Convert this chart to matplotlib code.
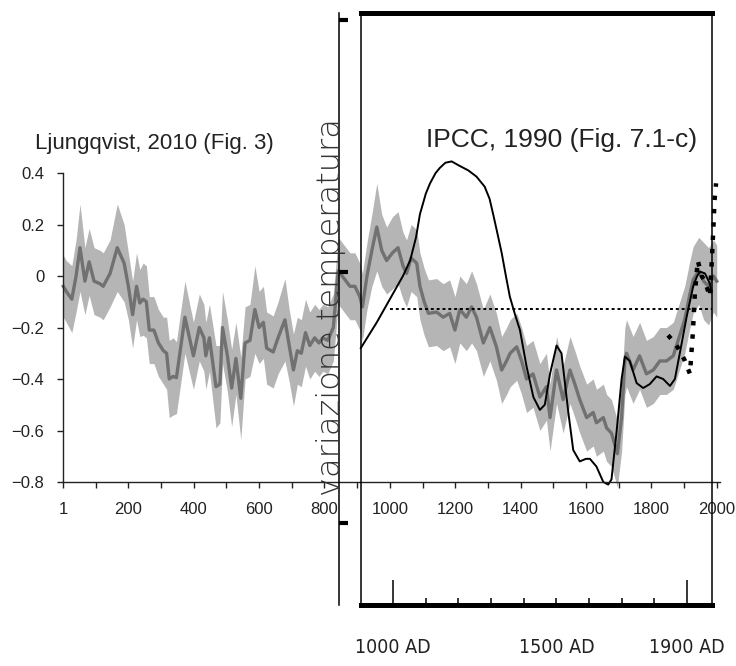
import matplotlib
matplotlib.use("Agg")
import matplotlib.pyplot as plt
import numpy as np

plt.rcParams['font.family'] = ['Liberation Sans', 'DejaVu Sans']

# Ljungqvist 2010 reconstruction
lj_years = [1, 10, 27, 40, 52, 67, 80, 95, 113, 123, 144, 166, 187, 200, 213, 225, 235, 245, 255,
            264, 278, 292, 307, 317, 325, 337, 347, 373, 399, 417, 431, 437, 448, 468, 480, 488,
            503, 516, 529, 544, 557, 572, 587, 600, 613, 623, 643, 658, 679, 692, 705, 717, 729,
            742, 755, 770, 783, 795, 810, 827, 842, 863, 878, 893, 908, 916, 930, 945, 960, 975,
            990, 1008, 1025, 1040, 1051, 1065, 1082, 1092, 1105, 1118, 1143, 1163, 1183, 1199,
            1214, 1234, 1250, 1265, 1286, 1306, 1326, 1342, 1357, 1368, 1388, 1403, 1418, 1438,
            1459, 1479, 1490, 1510, 1530, 1551, 1566, 1581, 1602, 1622, 1632, 1653, 1663, 1678,
            1696, 1709, 1719, 1724, 1744, 1764, 1785, 1806, 1826, 1846, 1867, 1882, 1902, 1918,
            1928, 1945, 1960, 1975, 1990, 2000]
lj_temp = [-0.04, -0.06, -0.09, 0.00, 0.11, -0.02, 0.055, -0.02, -0.03, -0.04, 0.01, 0.11, 0.05,
           -0.04, -0.15, -0.04, -0.105, -0.09, -0.10, -0.21, -0.21, -0.26, -0.29, -0.30, -0.40,
           -0.39, -0.395, -0.16, -0.31, -0.20, -0.24, -0.31, -0.24, -0.43, -0.42, -0.20, -0.31,
           -0.435, -0.32, -0.475, -0.26, -0.25, -0.13, -0.20, -0.18, -0.28, -0.295, -0.24, -0.17,
           -0.27, -0.365, -0.29, -0.30, -0.22, -0.27, -0.24, -0.26, -0.24, -0.25, -0.20, 0.02,
           -0.015, -0.04, -0.04, -0.08, -0.12, 0.00, 0.10, 0.19, 0.10, 0.06, 0.09, 0.11, 0.04,
           0.01, 0.07, 0.05, -0.04, -0.10, -0.145, -0.14, -0.16, -0.145, -0.21, -0.13, -0.16,
           -0.12, -0.16, -0.26, -0.20, -0.275, -0.365, -0.33, -0.30, -0.275, -0.33, -0.40, -0.38,
           -0.47, -0.43, -0.55, -0.365, -0.48, -0.365, -0.42, -0.48, -0.55, -0.53, -0.57, -0.55,
           -0.59, -0.61, -0.69, -0.55, -0.33, -0.30, -0.365, -0.31, -0.38, -0.365, -0.33, -0.33,
           -0.31, -0.25, -0.17, -0.07, -0.015, 0.02, -0.02, -0.04, 0.00, -0.02]
lj_halfwidth = [0.12, 0.12, 0.13, 0.14, 0.17, 0.13, 0.13, 0.13, 0.13, 0.13, 0.13, 0.17, 0.15,
                0.13, 0.13, 0.13, 0.13, 0.14, 0.14, 0.13, 0.13, 0.13, 0.13, 0.14, 0.15, 0.15,
                0.14, 0.14, 0.13, 0.13, 0.13, 0.13, 0.13, 0.16, 0.15, 0.14, 0.14, 0.15, 0.14,
                0.16, 0.14, 0.14, 0.17, 0.14, 0.14, 0.14, 0.14, 0.14, 0.16, 0.14, 0.14, 0.13,
                0.13, 0.13, 0.13, 0.13, 0.13, 0.13, 0.13, 0.13, 0.13, 0.13, 0.13, 0.13, 0.13,
                0.13, 0.13, 0.14, 0.17, 0.14, 0.13, 0.14, 0.14, 0.13, 0.13, 0.13, 0.13, 0.13,
                0.13, 0.13, 0.13, 0.13, 0.13, 0.13, 0.13, 0.13, 0.14, 0.13, 0.13, 0.13, 0.13,
                0.13, 0.13, 0.13, 0.13, 0.13, 0.13, 0.13, 0.13, 0.13, 0.13, 0.13, 0.13, 0.13,
                0.13, 0.13, 0.13, 0.13, 0.13, 0.13, 0.13, 0.13, 0.13, 0.13, 0.13, 0.13, 0.13,
                0.13, 0.13, 0.13, 0.13, 0.13, 0.13, 0.13, 0.13, 0.13, 0.13, 0.13, 0.15, 0.15,
                0.14, 0.14]

# IPCC 1990 fig 7.1-c curve, same scale
ipcc_years = [911, 960, 1000, 1040, 1062, 1080, 1092, 1110, 1123, 1140, 1153, 1170, 1189, 1210,
              1240, 1265, 1290, 1305, 1316, 1330, 1342, 1355, 1367, 1383, 1398, 1418, 1439, 1459,
              1474, 1490, 1510, 1525, 1546, 1561, 1581, 1600, 1612, 1632, 1653, 1668, 1678, 1694,
              1709, 1719, 1734, 1755, 1775, 1795, 1816, 1836, 1857, 1872, 1887, 1908, 1928, 1940,
              1949, 1964, 1979, 1984]
ipcc_temp = [-0.28, -0.18, -0.09, 0.00, 0.06, 0.15, 0.24, 0.32, 0.36, 0.40, 0.42, 0.44, 0.445,
             0.43, 0.41, 0.386, 0.347, 0.30, 0.24, 0.16, 0.09, 0.00, -0.08, -0.15, -0.21, -0.35,
             -0.47, -0.52, -0.50, -0.38, -0.27, -0.30, -0.53, -0.676, -0.72, -0.71, -0.71, -0.74,
             -0.80, -0.81, -0.79, -0.60, -0.40, -0.313, -0.33, -0.416, -0.435, -0.42, -0.39,
             -0.40, -0.427, -0.40, -0.30, -0.158, -0.04, 0.00, 0.017, 0.01, -0.03, -0.06]

# instrumental record (thick dotted)
instr_years = [1851, 1872, 1887, 1903, 1918, 1927, 1933, 1942, 1954, 1964, 1979, 1985, 1988,
               1991, 1993, 1998]
instr_temp = [-0.23, -0.26, -0.29, -0.33, -0.38, -0.22, -0.07, 0.06, 0.0, -0.02, -0.08, 0.06,
              0.14, 0.22, 0.29, 0.36]

# IPCC reference level (dotted)
ref_years = [1000, 1985]
ref_temp = [-0.13, -0.13]

ipcc_label_years = [1000, 1500, 1900]
ipcc_labels = ["1000 AD", "1500 AD", "1900 AD"]

W, H = 736, 666
fig = plt.figure(figsize=(W / 100, H / 100), dpi=100)


def px_box(x0, y0, x1, y1):
    return [x0 / W, 1 - y1 / H, (x1 - x0) / W, (y1 - y0) / H]


ax = fig.add_axes(px_box(63, 173, 720, 482))
yrs = np.array(lj_years)
t = np.array(lj_temp)
hw = np.array(lj_halfwidth)
ax.fill_between(yrs, t - hw, t + hw, color='#b5b5b5', lw=0, clip_on=False)
ax.plot(yrs, t, color='#717171', lw=2.4, clip_on=False)

ax.plot(ipcc_years, ipcc_temp, color='black', lw=1.4, clip_on=False)
ax.plot(ref_years, ref_temp, color='black', lw=1.4, ls=(0, (1.5, 1.5)))
ax.plot(instr_years, instr_temp, color='black', lw=3.2, ls=(0, (1, 2)), clip_on=False)

ax.set_xlim(0, 2010)
ax.set_ylim(-0.8, 0.4)
ax.set_xticks([1] + list(range(200, 2001, 200)))
ax.set_xticklabels(['1'] + [str(v) for v in range(200, 2001, 200)])
ax.set_xticks(range(100, 2000, 200), minor=True)
ax.set_yticks(np.arange(-0.8, 0.41, 0.2))
ax.set_yticklabels(['\u22120.8', '\u22120.6', '\u22120.4', '\u22120.2', '0', '0.2', '0.4'])
ax.tick_params(which='both', direction='out', length=4.5, width=1, color='#222222',
               labelsize=12, labelcolor='#222222')
ax.tick_params(axis='x', pad=10)
ax.tick_params(axis='y', pad=9)
for s in ['top', 'right']:
    ax.spines[s].set_visible(False)
for s in ['left', 'bottom']:
    ax.spines[s].set_linewidth(1)
    ax.spines[s].set_color('#222222')

# overlay frame from the IPCC figure
ax2 = fig.add_axes(px_box(361, 13, 712, 605))
ax2.patch.set_visible(False)
ax2.set_xlim(902, 1976.5)
ax2.set_ylim(-1.324, 1.028)
ax2.spines['top'].set_linewidth(3.6)
ax2.spines['bottom'].set_linewidth(3.6)
ax2.spines['right'].set_linewidth(1.1)
ax2.spines['left'].set_linewidth(1.1)
ax2.spines['left'].set_position(('outward', 16))
ax2.axvline(902, color='black', lw=1.1, clip_on=False)
ax2.set_xticks([1000, 1900])
ax2.set_xticks(range(1100, 1900, 100), minor=True)
ax2.set_xticklabels([])
ax2.set_yticks([-1, 0, 1])
ax2.set_yticklabels([])
ax2.tick_params(axis='x', which='major', direction='in', length=18, width=1.1)
ax2.tick_params(axis='x', which='minor', direction='in', length=5, width=1.1)
ax2.tick_params(axis='y', direction='in', length=6.5, width=3)
for yr, lab in zip(ipcc_label_years, ipcc_labels):
    ax2.text(yr, -0.071, lab, transform=ax2.get_xaxis_transform(), ha='center', va='center',
             fontsize=14, family=['Liberation Sans Narrow', 'DejaVu Sans'],
             fontstretch='condensed', color='#222222')

fig.text(35 / W, 1 - 144 / H, 'Ljungqvist, 2010 (Fig. 3)', fontsize=16, va='center',
         ha='left', color='#222222')
fig.text(562 / W, 1 - 140 / H, 'IPCC, 1990 (Fig. 7.1-c)', fontsize=19, va='center',
         ha='center', color='#222222')
fig.text(331 / W, 1 - 307 / H, 'variazione temperatura', rotation=90, fontsize=23,
         family='DejaVu Sans', fontweight='light', va='center', ha='center', color='#333333')

fig.savefig('out.png', dpi=100)
